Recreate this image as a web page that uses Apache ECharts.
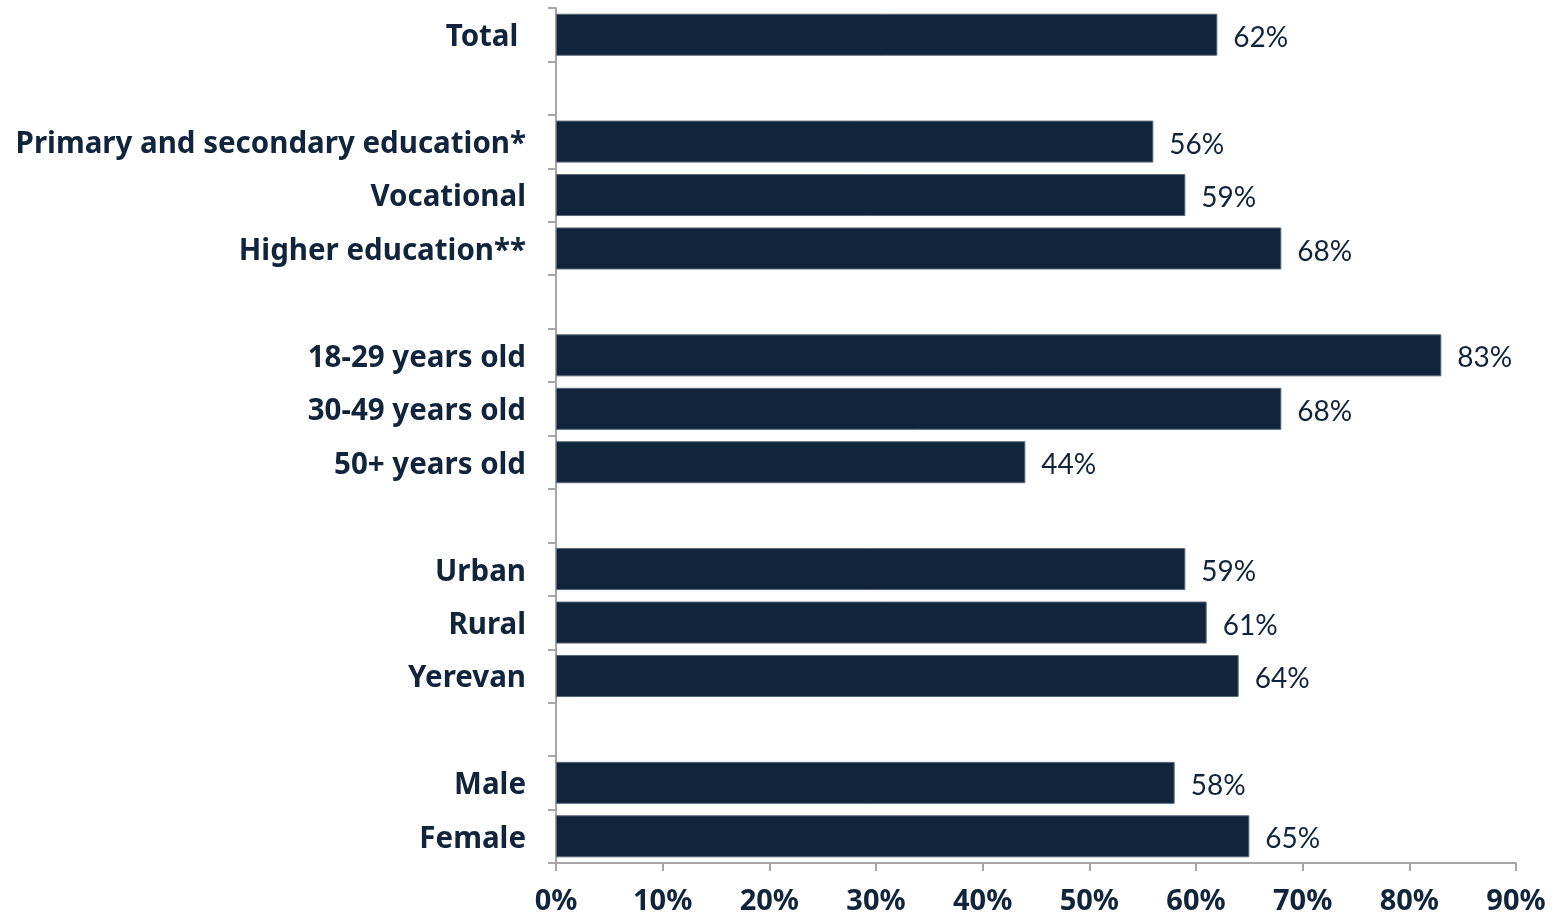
<!DOCTYPE html>
<html>
<head>
<meta charset="utf-8">
<script src="https://cdn.jsdelivr.net/npm/echarts@6/dist/echarts.min.js"></script>
<style>
  html, body { margin: 0; padding: 0; background: #fff; }
  #chart { width: 1554px; height: 919px; }
</style>
</head>
<body>
<div id="chart"></div>
<script>
// categories top to bottom, blank slots are the gaps between groups
var categories = [
    'Total ', ' ',
    'Primary and secondary education*', 'Vocational', 'Higher education**', '  ',
    '18-29 years old', '30-49 years old', '50+ years old', '   ',
    'Urban', 'Rural', 'Yerevan', '    ',
    'Male', 'Female'
];
var values = [62, null, 56, 59, 68, null, 83, 68, 44, null, 59, 61, 64, null, 58, 65];
var xTicks = [0, 10, 20, 30, 40, 50, 60, 70, 80, 90];

var chart = echarts.init(document.getElementById('chart'));

var option = {
    animation: false,
    grid: { left: 556, right: 38, top: 8, bottom: 56, containLabel: false },
    xAxis: {
        type: 'value',
        min: xTicks[0],
        max: xTicks[xTicks.length - 1],
        interval: 10,
        splitLine: { show: false },
        axisLine: { show: true, lineStyle: { color: '#a6a6a6', width: 2 } },
        axisTick: { show: true, length: 8, lineStyle: { color: '#a6a6a6', width: 2 } },
        axisLabel: {
            formatter: '{value}%',
            color: '#10253c',
            fontFamily: 'Noto Sans',
            fontWeight: 'bold',
            fontSize: 29,
            margin: 24
        }
    },
    yAxis: {
        type: 'category',
        inverse: true,
        data: categories,
        axisLine: { show: true, lineStyle: { color: '#a6a6a6', width: 2 } },
        axisTick: { show: true, length: 8, lineStyle: { color: '#a6a6a6', width: 2 } },
        axisLabel: {
            margin: 30,
            formatter: function (v) { return '{c|' + v + '}'; },
            rich: {
                c: {
                    color: '#10253c',
                    fontFamily: 'Noto Sans',
                    fontWeight: 'bold',
                    fontSize: 29.5,
                    padding: [6, 0, 0, 0]
                }
            }
        }
    },
    series: [{
        type: 'bar',
        data: values,
        barWidth: 42,
        itemStyle: { color: '#10253c', borderColor: '#5a6775', borderWidth: 1 },
        label: {
            show: true,
            position: 'right',
            distance: 16,
            offset: [0, 3],
            formatter: '{c}%',
            color: '#10253c',
            fontFamily: 'Lato',
            fontSize: 28
        }
    }]
};

chart.setOption(option);
</script>
</body>
</html>
